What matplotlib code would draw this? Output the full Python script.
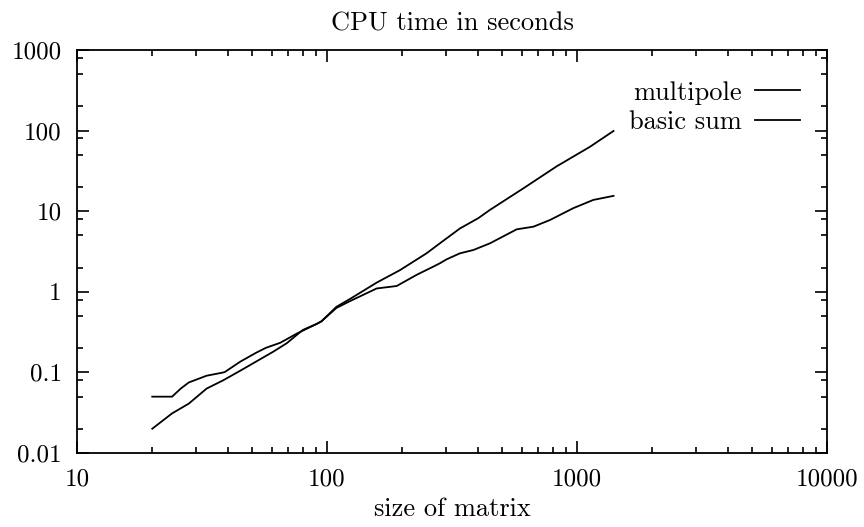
#!/usr/bin/env python3
"""
CPU time of the multipole method and of the basic sum against matrix size,
drawn on log-log axes in the style of an old gnuplot figure.
"""

import matplotlib
matplotlib.use("Agg")
import matplotlib.pyplot as plt
from matplotlib.ticker import LogLocator, NullFormatter

# Matrix sizes and CPU seconds
multipole_n = [20, 24, 26, 28, 33, 38, 39, 45, 52, 57, 65, 76, 91, 95,
               109, 124, 158, 190, 228, 266, 283, 301, 340, 385, 449,
               574, 669, 780, 966, 1162, 1400]
multipole_t = [0.05, 0.05, 0.063, 0.075, 0.091, 0.099, 0.101, 0.136, 0.175,
               0.202, 0.233, 0.305, 0.40, 0.43, 0.63, 0.77, 1.10, 1.18,
               1.62, 2.05, 2.26, 2.53, 3.0, 3.3, 4.0, 5.96, 6.42, 7.78,
               10.9, 13.8, 15.5]

basic_n = [20, 24, 28, 33, 38.5, 45, 52, 61, 69, 80, 91, 95, 109, 124,
           158, 196, 250, 283, 340, 403, 449, 610, 829, 1127, 1400]
basic_t = [0.02, 0.031, 0.041, 0.063, 0.080, 0.105, 0.136, 0.181, 0.23,
           0.336, 0.40, 0.43, 0.65, 0.82, 1.3, 1.86, 3.0, 4.0, 6.1, 8.2,
           10.4, 19.2, 36.0, 63.0, 99.0]

x_ticks = [10, 100, 1000, 10000]
x_labels = ["10", "100", "1000", "10000"]
y_ticks = [0.01, 0.1, 1, 10, 100, 1000]
y_labels = ["0.01", "0.1", "1", "10", "100", "1000"]

# Computer Modern look
plt.rcParams["font.family"] = ["cmr10", "DejaVu Serif"]
plt.rcParams["axes.formatter.use_mathtext"] = True
plt.rcParams["font.size"] = 19

fig = plt.figure(figsize=(8.64, 5.27), dpi=100)
ax = fig.add_axes([77 / 864, 74 / 527, 750 / 864, 403 / 527])

ax.plot(multipole_n, multipole_t, color="black", lw=1.3, label="multipole")
ax.plot(basic_n, basic_t, color="black", lw=1.3, label="basic sum")

ax.set_xscale("log")
ax.set_yscale("log")
ax.set_xlim(10, 10000)
ax.set_ylim(0.01, 1000)

ax.set_xticks(x_ticks, x_labels)
ax.set_yticks(y_ticks, y_labels)
ax.xaxis.set_minor_locator(LogLocator(base=10, subs=range(2, 10), numticks=20))
ax.yaxis.set_minor_locator(LogLocator(base=10, subs=[2, 5, 8], numticks=20))
ax.xaxis.set_minor_formatter(NullFormatter())
ax.yaxis.set_minor_formatter(NullFormatter())

ax.tick_params(which="both", direction="in", top=True, right=True,
               width=1.2, colors="black", labelsize=18)
ax.tick_params(which="major", length=8.8, pad=11)
ax.tick_params(which="minor", length=4.6)
for spine in ax.spines.values():
    spine.set_linewidth(1.3)

ax.set_title("CPU time in seconds", pad=14, fontsize=19)
ax.set_xlabel("size of matrix", labelpad=5)

ax.legend(loc="upper right", bbox_to_anchor=(800 / 864, 1 - 81 / 527),
          bbox_transform=fig.transFigure, frameon=False, markerfirst=False,
          borderpad=0, borderaxespad=0, handlelength=1.7, handletextpad=0.5,
          labelspacing=0.2)

fig.savefig("out.png", dpi=100)
